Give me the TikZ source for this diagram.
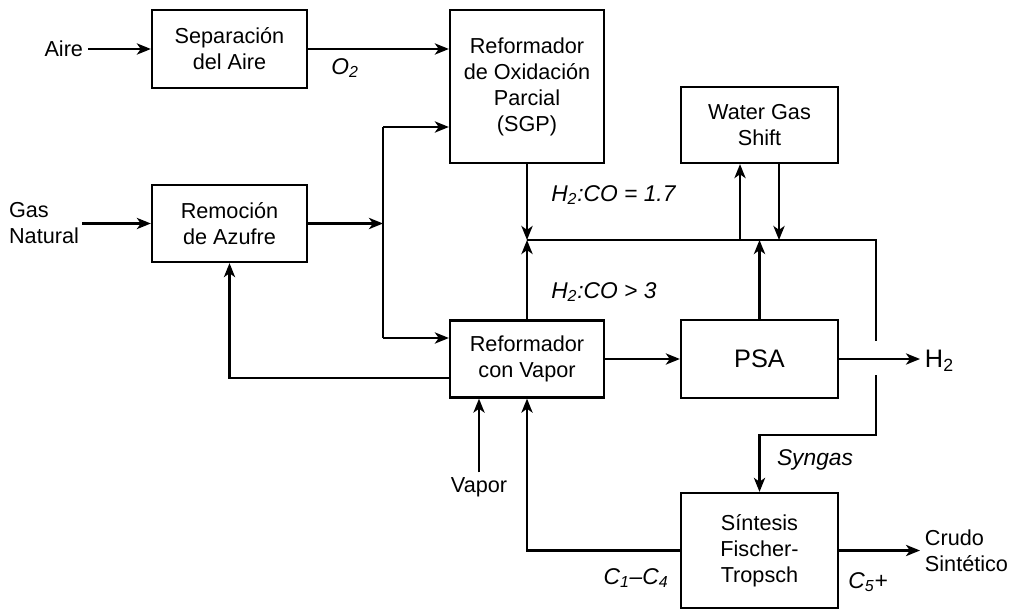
\documentclass[tikz,border=0pt]{standalone}
\usepackage{fontspec}
\setmainfont{Liberation Sans}
\usetikzlibrary{positioning,calc}
\usetikzlibrary{arrows.meta}
\newcommand{\blkfont}{\fontsize{15.4}{18.5}\selectfont}
\newcommand{\lblfont}{\fontsize{16.2}{19}\selectfont}
\newcommand{\bigfont}{\fontsize{18}{21}\selectfont}
\tikzset{
	blk/.style={draw=black,line width=1.6pt,inner sep=0pt,align=center,font=\blkfont},
	flow/.style={draw=black,line width=1.5pt,-{Stealth[length=10pt,width=8pt,inset=2.8pt]}},
	pipe/.style={draw=black,line width=1.5pt},
	txt/.style={font=\blkfont},
	lbl/.style={font=\lblfont\itshape,inner sep=0pt},
}

\begin{document}
\begin{tikzpicture}[x=0.025cm,y=-0.025cm]
			\useasboundingbox (0,0) rectangle (1017,610);
			\node[blk,minimum width=3.875cm,minimum height=1.95cm] (sep) at (229.5,49) {Separación\\del Aire};
			\node[blk,minimum width=3.85cm,minimum height=3.825cm] (sgp) at (527,86.5) {Reformador\\de Oxidación\\Parcial\\(SGP)};
			\node[blk,minimum width=3.875cm,minimum height=1.925cm] (rem) at (229.5,223.5) {Remoción\\de Azufre};
			\node[blk,minimum width=3.85cm,minimum height=1.925cm] (rv) at (527,359) {Reformador\\con Vapor};
			\node[blk,minimum width=3.925cm,minimum height=1.9cm] (wgs) at (759.5,125) {Water Gas\\Shift};
			\node[blk,minimum width=3.925cm,minimum height=1.95cm,font=\bigfont] (psa) at (759.5,359) {PSA};
			\node[blk,minimum width=3.925cm,minimum height=2.875cm] (ft) at (759.5,550.5) {Síntesis\\Fischer-\\Tropsch};
			\node[txt,anchor=east] (aire) at (88,49) {Aire};
			\node[txt,anchor=east,align=left,inner xsep=2pt] (gas) at (82,223.5) {Gas\\Natural};
			\node[txt] (vapor) at (479,487) {Vapor};
			\node[txt,font=\bigfont,anchor=west] (h2) at (920,361) {H\textsubscript{2}};
			\node[txt,anchor=west,align=left] (crudo) at (920,550.5) {Crudo\\Sintético};
			\node[lbl] (o2) at (345,68) {O\textsubscript{2}};
			\node[lbl,anchor=west] (r17) at (551,195) {H\textsubscript{2}:CO = 1.7};
			\node[lbl,anchor=west] (r3) at (551,292) {H\textsubscript{2}:CO > 3};
			\node[lbl] (syn) at (815,460) {Syngas};
			\node[lbl] (c14) at (636,578) {C\textsubscript{1}–C\textsubscript{4}};
			\node[lbl] (c5) at (868,582) {C\textsubscript{5}+};
			\coordinate (ja) at (383,223.5);
			\coordinate (jt) at (383,127);
			\coordinate (jb) at (383,338);
			\coordinate (mx) at (527,240);
			\coordinate (mr) at (876,240);
			\coordinate (ha) at (876,341);
			\coordinate (hb) at (876,375);
			\coordinate (sg) at (876,435);
			\coordinate (rc) at (527,550.5);
			\coordinate (wu) at (740,240);
			\coordinate (wd) at (779,240);
			\foreach \p/\q in {aire/sep,gas/rem,rem/ja,rv/psa,ft/crudo}
			\draw[flow] (\p) -- (\q);
			\draw[flow] (sep.east) -- (sep.east -| sgp.west);
			\draw[pipe] (jt) -- (jb);
			\draw[flow] (jt) -- (jt -| sgp.west);
			\draw[flow] (jb) -- (jb -| rv.west);
			\draw[flow] ([yshift=-0.475cm]rv.west) -| (rem.south);
			\draw[flow] (vapor) -- (vapor |- rv.south);
			\draw[flow] (ft.west) -- (rc) -- (rv.south);
			\draw[flow] (sgp.south) -- (mx);
			\draw[flow] (rv.north) -- (mx);
			\draw[pipe] (mx) -- (mr) -- (ha);
			\draw[flow] (wu) -- (wu |- wgs.south);
			\draw[flow] (wd |- wgs.south) -- (wd);
			\draw[flow] (psa.north) -- (psa.north |- mx);
			\draw[flow] (psa.east) -- (psa.east -| h2.west);
			\draw[flow] (hb) -- (sg) -| (ft.north);
		\end{tikzpicture}
\end{document}
